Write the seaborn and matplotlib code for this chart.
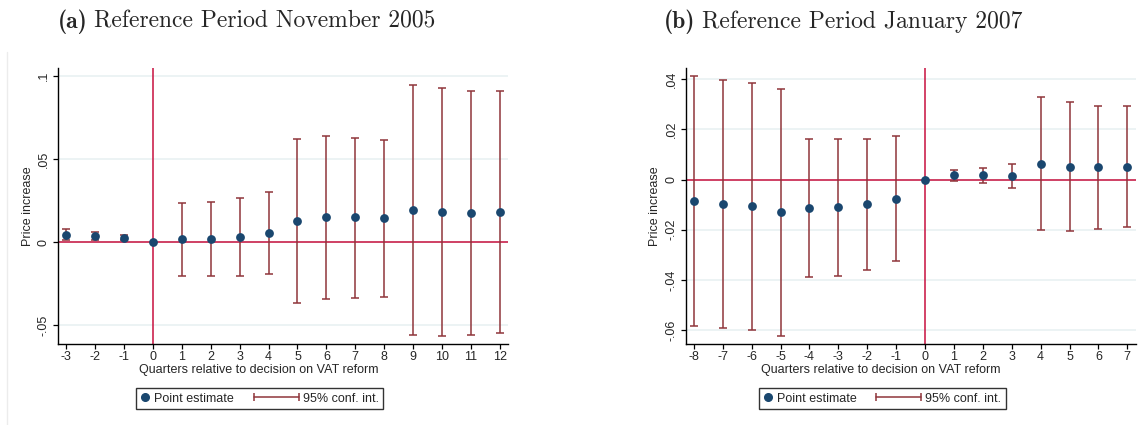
import numpy as np
import pandas as pd
import matplotlib
matplotlib.use("Agg")
import matplotlib.pyplot as plt
import seaborn as sns
from matplotlib.lines import Line2D
from matplotlib.legend_handler import HandlerBase

# ---------------- data ----------------
quarters_a = [-3, -2, -1, 0, 1, 2, 3, 4, 5, 6, 7, 8, 9, 10, 11, 12]
est_a = [0.0044, 0.0034, 0.0022, 0.0, 0.0016, 0.0018, 0.0032, 0.0052,
         0.0128, 0.0148, 0.0148, 0.0144, 0.0192, 0.0180, 0.0176, 0.0180]
lo_a = [0.0010, 0.0010, 0.0010, np.nan, -0.0206, -0.0206, -0.0204, -0.0192,
        -0.0364, -0.0342, -0.0334, -0.0328, -0.0560, -0.0564, -0.0556, -0.0548]
hi_a = [0.0076, 0.0058, 0.0044, np.nan, 0.0236, 0.0242, 0.0266, 0.0300,
        0.0620, 0.0636, 0.0628, 0.0616, 0.0946, 0.0924, 0.0910, 0.0910]
yticks_a = [-0.05, 0.0, 0.05, 0.1]
ylabels_a = ["-.05", "0", ".05", ".1"]

quarters_b = [-8, -7, -6, -5, -4, -3, -2, -1, 0, 1, 2, 3, 4, 5, 6, 7]
est_b = [-0.0086, -0.0096, -0.0106, -0.0131, -0.0114, -0.0110, -0.0098, -0.0076,
         0.0, 0.0017, 0.0017, 0.0015, 0.0062, 0.0050, 0.0048, 0.0050]
lo_b = [-0.0583, -0.0590, -0.0598, -0.0624, -0.0390, -0.0384, -0.0361, -0.0325,
        np.nan, -0.0004, -0.0013, -0.0032, -0.0203, -0.0206, -0.0198, -0.0191]
hi_b = [0.0413, 0.0397, 0.0384, 0.0361, 0.0162, 0.0162, 0.0163, 0.0174,
        np.nan, 0.0039, 0.0045, 0.0061, 0.0330, 0.0307, 0.0291, 0.0291]
yticks_b = [-0.06, -0.04, -0.02, 0.0, 0.02, 0.04]
ylabels_b = ["-.06", "-.04", "-.02", "0", ".02", ".04"]

tag_a, title_a = "(a)", "Reference Period November 2005"
tag_b, title_b = "(b)", "Reference Period January 2007"
xlabel = "Quarters relative to decision on VAT reform"
ylabel = "Price increase"
legend_labels = ["Point estimate", "95% conf. int."]

# ---------------- style ----------------
NAVY = "#1a476f"
CI = "#90353b"
RED = "#c8103e"
GRID = "#eaf2f3"

sns.set_theme(style="white")
plt.rcParams["font.family"] = ["Liberation Sans", "DejaVu Sans"]

W, H = 1140, 425
fig = plt.figure(figsize=(W / 100, H / 100), dpi=100)


def axrect(l, r, t, b):
    return [l / W, 1 - b / H, (r - l) / W, (b - t) / H]


ax_a = fig.add_axes(axrect(58, 508, 68, 344))
ax_b = fig.add_axes(axrect(686, 1136, 68, 344))


def draw(ax, q, est, lo, hi, yticks, ylabels, xlim, ylim, ylab_x, xlab_x):
    df = pd.DataFrame(dict(q=q, est=est, lo=lo, hi=hi))
    for y in yticks:
        ax.axhline(y, color=GRID, lw=1.3, zorder=0)
    ax.axhline(0, color=RED, lw=1.1, zorder=1.5)
    ax.axvline(0, color=RED, lw=1.1, zorder=1.5)
    ci = df.dropna()
    ax.errorbar(ci["q"], ci["est"], yerr=[ci["est"] - ci["lo"], ci["hi"] - ci["est"]],
                fmt="none", ecolor=CI, elinewidth=1.1, capsize=2.6, capthick=1.1, zorder=2)
    sns.scatterplot(data=df, x="q", y="est", ax=ax, color=NAVY, s=40,
                    linewidth=0, zorder=3, legend=False)
    ax.set_xlim(xlim)
    ax.set_ylim(ylim)
    ax.set_xticks(q)
    ax.set_xticklabels([str(v) for v in q])
    ax.set_yticks(yticks)
    ax.set_yticklabels(ylabels, rotation=90, va="center")
    for s in ["top", "right"]:
        ax.spines[s].set_visible(False)
    for s in ["left", "bottom"]:
        ax.spines[s].set_color("black")
        ax.spines[s].set_linewidth(1.0)
    ax.tick_params(axis="x", direction="out", length=3.6, width=0.9, color="black",
                   labelsize=9, pad=1.2, bottom=True)
    ax.tick_params(axis="y", direction="out", length=3.6, width=0.9, color="black",
                   labelsize=9, pad=2.5, left=True)
    ax.set_xlabel(xlabel, fontsize=9)
    ax.set_ylabel(ylabel, fontsize=9)
    ax.xaxis.set_label_coords(xlab_x, -0.072)
    ax.yaxis.set_label_coords(ylab_x, 0.5)
    ax.grid(False)


draw(ax_a, quarters_a, est_a, lo_a, hi_a, yticks_a, ylabels_a,
     (-3.28, 12.28), (-0.0612, 0.1046), (34 - 58) / 450, (258.5 - 58) / 450)
draw(ax_b, quarters_b, est_b, lo_b, hi_b, yticks_b, ylabels_b,
     (-8.27, 7.30), (-0.0655, 0.0444), (661 - 686) / 450, (881 - 686) / 450)

# titles: bold tag + regular caption, centred as a pair
renderer = fig.canvas.get_renderer()
TSIZE = 17
for tag, title, cx in ((tag_a, title_a, 246.5), (tag_b, title_b, 843)):
    t1 = fig.text(0, 1 - 28 / H, tag, ha="left", va="baseline", fontsize=TSIZE,
                  family="cmb10")
    t2 = fig.text(0, 1 - 28 / H, title, ha="left", va="baseline", fontsize=TSIZE,
                  family="cmr10")
    w1 = t1.get_window_extent(renderer).width
    w2 = t2.get_window_extent(renderer).width
    gap = 7
    x0 = cx - (w1 + gap + w2) / 2
    t1.set_x(x0 / W)
    t2.set_x((x0 + w1 + gap) / W)

# faint graph-region edge on the left
fig.add_artist(Line2D([7 / W, 7 / W], [0, 1 - 52 / H], color="#ececec", lw=1))


# legend handlers
class DotHandler(HandlerBase):
    def create_artists(self, legend, orig_handle, xdescent, ydescent, width, height,
                       fontsize, trans):
        y = (height - ydescent) / 2
        return [Line2D([width / 2 - xdescent], [y], marker="o", ms=5.5, color=NAVY,
                       ls="none", transform=trans)]


class CIHandler(HandlerBase):
    def create_artists(self, legend, orig_handle, xdescent, ydescent, width, height,
                       fontsize, trans):
        y = (height - ydescent) / 2
        x0 = -xdescent - 2.8 * fontsize
        x1 = -xdescent + width
        return [Line2D([x0, x1], [y, y], color=CI, lw=1.1, marker="|", ms=6,
                       mew=1.1, transform=trans)]


h_dot = Line2D([], [], color=NAVY)
h_ci = Line2D([], [], color=CI)
for cx in (259.5, 882):
    leg = fig.legend([h_dot, h_ci], legend_labels, loc="center",
                     bbox_to_anchor=(cx / W, 1 - 398.5 / H), ncol=2,
                     handler_map={h_dot: DotHandler(), h_ci: CIHandler()},
                     handlelength=0.8, handletextpad=0.3, columnspacing=4.4,
                     borderpad=0.35, fontsize=9, frameon=True, fancybox=False)
    leg.get_frame().set_edgecolor("black")
    leg.get_frame().set_linewidth(1.0)

fig.savefig("out.png", dpi=100, facecolor="white")
